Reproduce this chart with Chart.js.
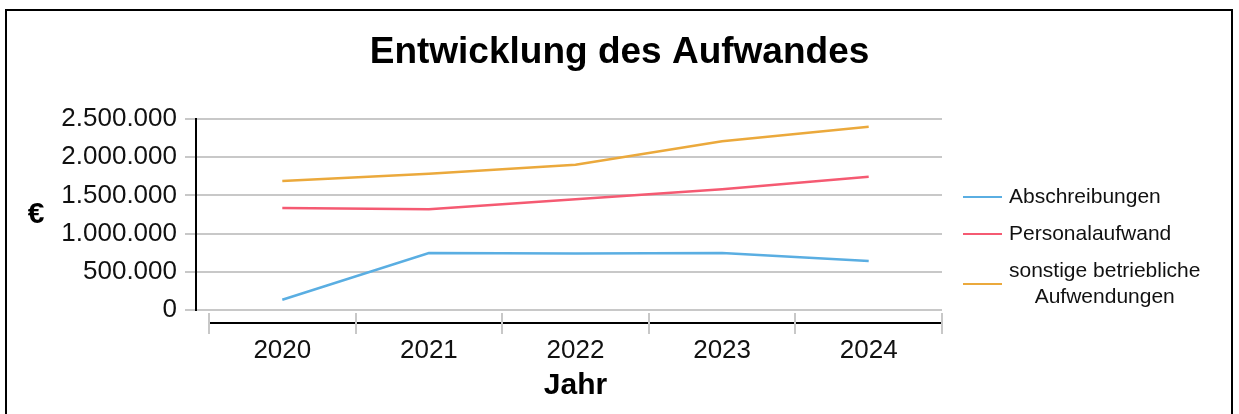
<!DOCTYPE html>
<html>
<head>
<meta charset="utf-8">
<script src="https://cdn.jsdelivr.net/npm/chart.js@4.4.1/dist/chart.umd.min.js"></script>
<style>
  html, body { margin: 0; padding: 0; background: #fff; }
  .frame { position: absolute; left: 5px; top: 9px; width: 1228px; height: 420px; box-sizing: border-box; border: 2px solid #000; }
  #chart { position: absolute; left: 0; top: 0; }
</style>
</head>
<body>
<div class="frame"></div>
<canvas id="chart" width="1239" height="414"></canvas>
<script>
const years = ['2020', '2021', '2022', '2023', '2024'];
const abschreibungen = [135000, 745000, 740000, 745000, 640000];
const personalaufwand = [1335000, 1320000, 1450000, 1580000, 1745000];
const sonstigeAufwendungen = [1690000, 1785000, 1900000, 2210000, 2400000];
const seriesLabels = ['Abschreibungen', 'Personalaufwand', 'sonstige betriebliche Aufwendungen'];
const seriesColors = ['#5aaee2', '#f55a72', '#eba93c'];
const yTicks = [0, 500000, 1000000, 1500000, 2000000, 2500000];
const yMin = -170000;
const yMax = 2500000;

const FONT = "'Liberation Sans', Arial, sans-serif";
Chart.defaults.font.family = FONT;
Chart.defaults.color = '#111';

// 2500000 -> "2.500.000"
const formatDe = (v) => String(v).replace(/\B(?=(\d{3})+(?!\d))/g, '.');

const wrap = (ctx, text, maxWidth) => {
  const words = text.split(' ');
  const lines = [];
  let line = '';
  words.forEach((w) => {
    const test = line ? line + ' ' + w : w;
    if (line && ctx.measureText(test).width > maxWidth) {
      lines.push(line);
      line = w;
    } else {
      line = test;
    }
  });
  if (line) lines.push(line);
  return lines;
};

const decorations = {
  id: 'decorations',
  beforeDatasetsDraw(chart) {
    const { ctx, chartArea, scales } = chart;
    ctx.save();
    ctx.strokeStyle = '#c8c8c8';
    ctx.lineWidth = 2;
    for (let i = 0; i <= years.length; i++) {
      const px = Math.round(scales.x.getPixelForValue(i - 0.5));
      ctx.beginPath();
      ctx.moveTo(px, chartArea.bottom - 10);
      ctx.lineTo(px, chartArea.bottom + 11);
      ctx.stroke();
    }
    ctx.restore();
  },
  afterDraw(chart) {
    const { ctx, chartArea, scales } = chart;
    ctx.save();

    // y axis line, only from 0 up to the top tick
    const ax = chartArea.left - 13;
    ctx.strokeStyle = '#000';
    ctx.lineWidth = 2;
    ctx.beginPath();
    ctx.moveTo(ax, scales.y.getPixelForValue(yTicks[yTicks.length - 1]) - 1);
    ctx.lineTo(ax, scales.y.getPixelForValue(0) + 1);
    ctx.stroke();

    // upright y title
    ctx.fillStyle = '#000';
    ctx.font = 'bold 30px ' + FONT;
    ctx.textAlign = 'center';
    ctx.textBaseline = 'middle';
    ctx.fillText('€', 36, 215);

    // legend
    ctx.font = '21px ' + FONT;
    ctx.fillStyle = '#111';
    let top = chartArea.top + 65;
    const markerX = chartArea.right + 21;
    const textX = chartArea.right + 67;
    chart.data.datasets.forEach((ds) => {
      const lines = wrap(ctx, ds.label, 200);
      const h = lines.length * 26;
      const cy = top + h / 2;
      ctx.strokeStyle = ds.borderColor;
      ctx.lineWidth = 2;
      ctx.beginPath();
      ctx.moveTo(markerX, cy);
      ctx.lineTo(markerX + 39, cy);
      ctx.stroke();
      const blockW = Math.max(...lines.map((l) => ctx.measureText(l).width));
      lines.forEach((l, k) => {
        ctx.fillText(l, textX + blockW / 2, top + 13 + k * 26);
      });
      top += h + 11;
    });
    ctx.restore();
  }
};

const seriesData = [abschreibungen, personalaufwand, sonstigeAufwendungen];

new Chart(document.getElementById('chart'), {
  type: 'line',
  data: {
    labels: years,
    datasets: seriesData.map((d, i) => ({
      label: seriesLabels[i],
      data: d,
      borderColor: seriesColors[i],
      backgroundColor: seriesColors[i],
      borderWidth: 2.5,
      pointRadius: 0,
      pointHoverRadius: 0,
      tension: 0,
      fill: false
    }))
  },
  options: {
    responsive: false,
    animation: false,
    events: [],
    layout: { padding: 0 },
    plugins: {
      legend: { display: false },
      tooltip: { enabled: false },
      title: {
        display: true,
        text: 'Entwicklung des Aufwandes',
        color: '#000',
        font: { size: 37, weight: 'bold' },
        padding: { top: 30.5, bottom: 44.1 }
      }
    },
    scales: {
      x: {
        offset: true,
        grid: { display: true, drawOnChartArea: false, drawTicks: false, tickLength: 0 },
        border: { display: true, color: '#000', width: 2 },
        ticks: { padding: 12, font: { size: 26 }, color: '#111', maxRotation: 0 },
        title: {
          display: true,
          text: 'Jahr',
          color: '#000',
          font: { size: 30, weight: 'bold' },
          padding: { top: 0, bottom: 10 }
        },
        afterFit(scale) { scale.height = 91; }
      },
      y: {
        min: yMin,
        max: yMax,
        afterBuildTicks(scale) { scale.ticks = yTicks.map((v) => ({ value: v })); },
        grid: { color: '#c8c8c8', lineWidth: 2, tickLength: 24 },
        border: { display: false },
        ticks: { padding: 8, font: { size: 26 }, color: '#111', callback: (v) => formatDe(v) },
        afterFit(scale) { scale.width = 209; }
      },
      legendSpace: {
        type: 'linear',
        position: 'right',
        grid: { display: false },
        border: { display: false },
        ticks: { display: false },
        afterFit(scale) { scale.width = 297; }
      }
    }
  },
  plugins: [decorations]
});
</script>
</body>
</html>
